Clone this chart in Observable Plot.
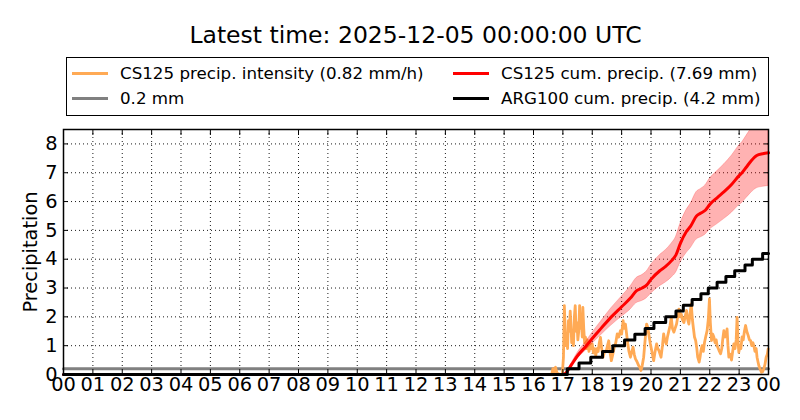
<!DOCTYPE html>
<html>
<head>
<meta charset="utf-8">
<script src="https://cdn.jsdelivr.net/npm/d3@7"></script>
<script src="https://cdn.jsdelivr.net/npm/@observablehq/plot@0.6"></script>
<style>
  html, body { margin: 0; padding: 0; background: #fff; }
  #page { position: relative; width: 800px; height: 420px; font-family: "DejaVu Sans", sans-serif; color: #000; overflow: hidden; }
  #title { position: absolute; left: 63px; width: 705px; top: 19px; text-align: center; font-size: 23.5px; line-height: 32px; }
  #legend { position: absolute; left: 66px; top: 57px; width: 701px; height: 57px; border: 1px solid #000; font-size: 16.7px; }
  .item { position: absolute; height: 20px; line-height: 20px; white-space: nowrap; }
  .swatch { position: absolute; left: 0; top: 9px; width: 36px; height: 3px; }
  .label { position: absolute; left: 48px; top: 0; }
  #ylabel { position: absolute; z-index: 3; left: 30px; top: 252px; transform: translate(-50%, -50%) rotate(-90deg); font-size: 19.4px; white-space: nowrap; }
  #chart { position: absolute; z-index: 1; left: 0; top: 120px; }
</style>
</head>
<body>
<div id="page">
  <div id="title"></div>
  <div id="legend"></div>
  <div id="ylabel"></div>
  <div id="chart"></div>
</div>
<script>
// ---- data ----
const titleText = "Latest time: 2025-12-05 00:00:00 UTC";
const yLabel = "Precipitation";
const legendLabels = [
  "CS125 precip. intensity (0.82 mm/h)",
  "CS125 cum. precip. (7.69 mm)",
  "0.2 mm",
  "ARG100 cum. precip. (4.2 mm)"
];
const xTicks = [0,1,2,3,4,5,6,7,8,9,10,11,12,13,14,15,16,17,18,19,20,21,22,23,24];
const xTickLabels = ["00","01","02","03","04","05","06","07","08","09","10","11","12","13","14","15","16","17","18","19","20","21","22","23","00"];
const yTicks = [0,1,2,3,4,5,6,7,8];

// threshold line [hour, mm]
const thresholdSeries = [[0, 0.2], [24, 0.2]];

// CS125 precipitation intensity [hour, mm/h]
const intensitySeries = [
  [16.62,0],[16.66,0.2],[16.70,0.08],[16.75,0.25],[16.80,0.05],[16.90,0],[16.98,0],
  [17.02,0.6],[17.05,2.39],[17.08,1.5],[17.10,1.0],[17.13,1.3],[17.16,0.9],[17.19,1.87],[17.22,1.5],[17.25,2.2],
  [17.28,1.6],[17.30,1.1],[17.33,1.4],[17.36,1.0],[17.39,1.98],[17.42,2.39],[17.45,1.5],[17.48,1.8],[17.51,1.2],
  [17.54,1.5],[17.57,2.39],[17.60,1.6],[17.63,1.9],[17.66,1.3],[17.68,2.33],[17.71,1.6],[17.74,1.1],[17.77,1.3],
  [17.80,0.9],[17.83,1.2],[17.86,1.0],[17.89,0.8],[17.92,1.1],[17.96,0.9],[18.00,1.06],[18.04,0.75],[18.08,0.9],
  [18.12,0.66],[18.16,0.9],[18.20,0.8],[18.24,1.1],[18.28,1.29],[18.32,0.9],[18.37,0.6],[18.42,0.8],[18.48,0.83],
  [18.52,1.0],[18.56,1.17],[18.60,0.8],[18.65,0.48],[18.70,0.7],[18.75,0.95],[18.80,1.1],[18.85,1.41],[18.90,1.3],
  [18.96,1.52],[19.00,1.4],[19.05,1.87],[19.09,1.6],[19.13,1.75],[19.17,1.4],[19.21,1.06],[19.25,0.8],[19.30,0.6],
  [19.35,0.8],[19.39,0.95],[19.43,0.7],[19.47,0.54],[19.52,0.45],[19.58,0.31],[19.62,0.25],[19.66,0.14],[19.70,0.3],
  [19.75,0.6],[19.80,1.2],[19.85,1.75],[19.89,1.64],[19.94,1.3],[19.98,1.06],[20.03,0.8],[20.09,0.48],[20.14,0.8],
  [20.19,1.06],[20.23,0.9],[20.27,0.83],[20.31,0.7],[20.34,0.6],[20.39,1.0],[20.43,1.41],[20.47,1.2],[20.52,1.06],
  [20.56,1.3],[20.61,1.52],[20.65,1.7],[20.69,1.98],[20.73,1.6],[20.78,1.47],[20.82,1.6],[20.87,1.75],[20.91,2.0],
  [20.95,2.27],[20.99,2.0],[21.03,2.1],[21.07,1.9],[21.12,1.8],[21.16,2.0],[21.21,2.22],[21.25,1.9],[21.29,1.75],
  [21.33,2.1],[21.37,2.45],[21.41,1.9],[21.44,1.64],[21.48,1.3],[21.52,1.18],[21.56,0.9],[21.59,0.6],[21.62,0.5],
  [21.64,0.43],[21.67,0.6],[21.70,0.83],[21.74,1.0],[21.78,0.8],[21.82,1.1],[21.86,1.3],[21.91,1.52],[21.95,1.9],
  [21.99,2.62],[22.02,1.8],[22.06,1.18],[22.10,1.4],[22.14,1.3],[22.18,1.1],[22.22,1.2],[22.25,1.0],[22.29,0.9],
  [22.33,0.8],[22.37,0.72],[22.41,0.9],[22.44,1.2],[22.48,1.52],[22.52,1.3],[22.56,1.4],[22.59,1.58],[22.62,1.0],
  [22.65,0.6],[22.70,0.7],[22.74,0.5],[22.78,0.8],[22.82,1.06],[22.86,0.9],[22.90,1.2],[22.93,1.98],[22.96,1.2],
  [22.99,0.77],[23.03,1.0],[23.06,0.9],[23.10,1.3],[23.14,1.2],[23.18,1.5],[23.22,1.7],[23.26,1.5],[23.31,1.35],
  [23.35,1.2],[23.39,1.18],[23.43,1.0],[23.47,1.1],[23.50,1.0],[23.54,0.8],[23.58,0.9],[23.61,0.6],[23.64,0.45],
  [23.67,0.31],[23.71,0.2],[23.76,0.08],[23.80,0.1],[23.84,0.2],[23.88,0.35],[23.92,0.6],[23.96,0.7],[23.99,0.89]
];

// CS125 cumulative precipitation (mm) with its uncertainty band
const cumHours = [0,17.0,17.1,17.3,17.5,17.8,18.0,18.3,18.65,19.0,19.3,19.5,19.7,19.85,20.0,20.3,20.5,20.7,20.85,21.0,21.2,21.35,21.55,21.7,21.85,22.0,22.25,22.5,22.75,23.0,23.1,23.25,23.4,23.6,23.8,24.0];
const cumValues = [0,0,0.05,0.35,0.65,1.0,1.25,1.6,2.0,2.35,2.65,2.9,3.0,3.1,3.3,3.6,3.75,3.95,4.15,4.55,4.95,5.15,5.5,5.6,5.7,5.9,6.13,6.35,6.6,6.9,7.0,7.2,7.4,7.6,7.66,7.69];
const cumLower = [0,0,0.04,0.3,0.55,0.85,1.06,1.36,1.7,2.0,2.25,2.47,2.55,2.64,2.8,3.06,3.19,3.36,3.53,3.87,4.2,4.38,4.68,4.76,4.85,5.02,5.21,5.4,5.61,5.87,5.95,6.12,6.29,6.46,6.51,6.54];
const cumUpper = [0,0,0.06,0.4,0.75,1.15,1.44,1.84,2.3,2.7,3.05,3.34,3.45,3.57,3.8,4.14,4.31,4.54,4.77,5.23,5.69,5.92,6.33,6.44,6.56,6.79,7.05,7.3,7.59,7.94,8.05,8.28,8.51,8.74,8.81,8.84];

// ARG100 tipping-bucket cumulative precipitation (mm)
const gaugeHours = [0,17.15,17.55,17.95,18.35,18.7,19.1,19.45,19.8,20.1,20.5,20.85,21.1,21.4,21.7,21.95,22.25,22.55,22.85,23.2,23.45,23.8,24];
const gaugeValues = [0,0.2,0.4,0.6,0.8,1.0,1.2,1.4,1.6,1.8,2.0,2.2,2.4,2.6,2.8,3.0,3.2,3.4,3.6,3.8,4.0,4.2,4.2];

// colours
const cOrange = "#ffaa55";
const cRed = "#ff0000";
const cGrey = "#808080";
const cBlack = "#000000";

// ---- build ----
document.getElementById("title").textContent = titleText;
document.getElementById("ylabel").textContent = yLabel;

const legend = document.getElementById("legend");
const legendItems = [
  {label: legendLabels[0], color: cOrange, left: 5, top: 5},
  {label: legendLabels[1], color: cRed, left: 386, top: 5},
  {label: legendLabels[2], color: cGrey, left: 5, top: 30},
  {label: legendLabels[3], color: cBlack, left: 386, top: 30}
];
for (const it of legendItems) {
  const d = document.createElement("div");
  d.className = "item";
  d.style.left = it.left + "px";
  d.style.top = it.top + "px";
  const s = document.createElement("div");
  s.className = "swatch";
  s.style.background = it.color;
  const t = document.createElement("div");
  t.className = "label";
  t.textContent = it.label;
  d.appendChild(s); d.appendChild(t);
  legend.appendChild(d);
}

const pairs = (arr) => arr.map(([x, y]) => ({x, y}));
const threshold = pairs(thresholdSeries);
const intensity = pairs(intensitySeries);
const cum = cumHours.map((x, i) => ({x, y: cumValues[i], lo: cumLower[i], hi: cumUpper[i]}));
const gauge = gaugeHours.map((x, i) => ({x, y: gaugeValues[i]}));

const chart = Plot.plot({
  width: 800,
  height: 300,
  marginTop: 9,
  marginBottom: 46,
  marginLeft: 63,
  marginRight: 32,
  style: {fontFamily: "DejaVu Sans, sans-serif", fontSize: "19.4px", color: "#000", background: "transparent"},
  x: {domain: [0, 24]},
  y: {domain: [0, 8.5]},
  marks: [
    Plot.gridX(xTicks, {stroke: "#000", strokeOpacity: 0.9, strokeDasharray: "1,3"}),
    Plot.gridY(yTicks, {stroke: "#000", strokeOpacity: 0.9, strokeDasharray: "1,3"}),
    Plot.line(threshold, {x: "x", y: "y", stroke: cGrey, strokeWidth: 3}),
    Plot.line(intensity, {x: "x", y: "y", stroke: cOrange, strokeWidth: 2.8, strokeLinejoin: "round"}),
    Plot.areaY(cum, {x: "x", y1: "lo", y2: "hi", fill: cRed, fillOpacity: 0.3, stroke: cRed, strokeOpacity: 0.2, curve: "monotone-x", clip: true}),
    Plot.line(cum, {x: "x", y: "y", stroke: cRed, strokeWidth: 3, curve: "monotone-x"}),
    Plot.line(gauge, {x: "x", y: "y", stroke: cBlack, strokeWidth: 3, curve: "step-after"}),
    Plot.axisX({ticks: xTicks, tickFormat: (d, i) => xTickLabels[i], tickSize: -5, tickPadding: 8, label: null}),
    Plot.axisX({anchor: "top", ticks: xTicks, tickFormat: () => "", tickSize: -5, label: null}),
    Plot.axisY({ticks: yTicks, tickSize: -5, tickPadding: 11, label: null}),
    Plot.axisY({anchor: "right", ticks: yTicks, tickFormat: () => "", tickSize: -5, label: null}),
    Plot.frame({stroke: "#000", strokeWidth: 1.5})
  ]
});
document.getElementById("chart").appendChild(chart);
</script>
</body>
</html>
